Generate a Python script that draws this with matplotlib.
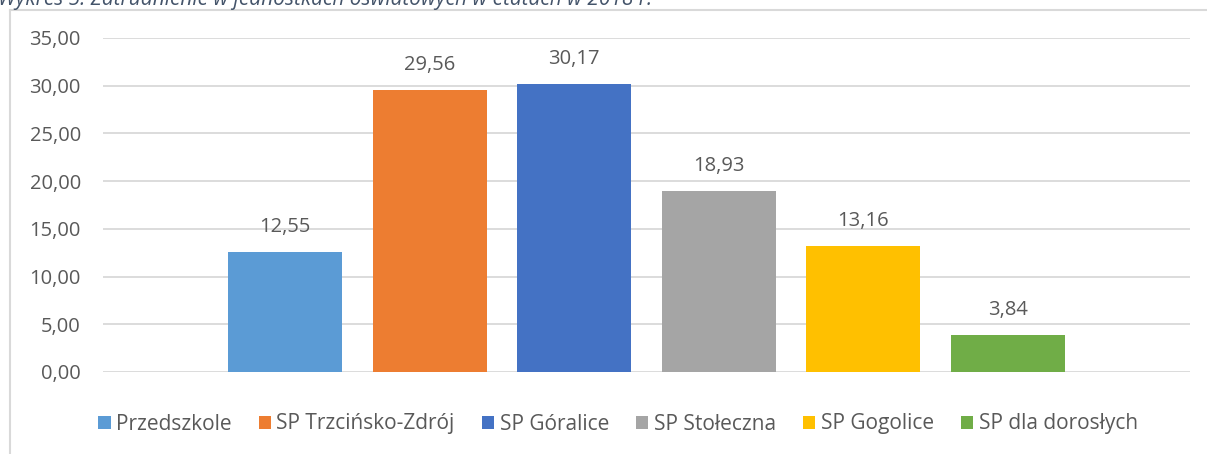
import matplotlib.pyplot as plt
from matplotlib.lines import Line2D
from matplotlib.ticker import FuncFormatter

# data
schools = ['Przedszkole', 'SP Trzcińsko-Zdrój', 'SP Góralice', 'SP Stołeczna',
           'SP Gogolice', 'SP dla dorosłych']
etaty = [12.55, 29.56, 30.17, 18.93, 13.16, 3.84]
colors = ['#5B9BD5', '#ED7D31', '#4472C4', '#A5A5A5', '#FFC000', '#70AD47']
title = 'Wykres 5. Zatrudnienie w jednostkach oświatowych w etatach w 2018 r.'

plt.rcParams['font.family'] = ['Open Sans', 'DejaVu Sans']
txt = '#595959'

fig = plt.figure(figsize=(12.07, 4.54), dpi=100)
ax = fig.add_axes([103/1207, 1 - 372/454, 1087/1207, 334/454])

# one bar per school, clustered in one group
bars = []
for i, (name, val, c) in enumerate(zip(schools, etaty, colors)):
    b = ax.bar(i, val, width=0.79, color=c, label=name, zorder=3)
    bars.append(b)
    ax.annotate(f'{val:.2f}'.replace('.', ','), (i, val), xytext=(0, 11),
                textcoords='offset points', ha='center', va='bottom',
                fontsize=14.5, color=txt)

ax.set_xlim(-1.26, 6.26)
ax.set_ylim(0, 35)
ax.set_yticks(range(0, 36, 5))
ax.yaxis.set_major_formatter(FuncFormatter(lambda v, p: f'{v:.2f}'.replace('.', ',')))
ax.set_xticks([])
ax.tick_params(axis='y', length=0, pad=16, labelsize=14.5, labelcolor=txt)
ax.grid(axis='y', color='#D9D9D9', linewidth=1.3, zorder=0)
for s in ax.spines.values():
    s.set_visible(False)

# legend under the plot
fig.legend(handles=[b[0] for b in bars], labels=schools, loc='center',
           bbox_to_anchor=(618/1207, 1 - 424/454), ncol=6, frameon=False,
           fontsize=15, labelcolor=txt, handlelength=0.6, handleheight=0.6,
           handletextpad=0.25, columnspacing=1.3)

# chart frame (left and top edges only are in view)
fig.add_artist(Line2D([9.5/1207, 9.5/1207], [0, 1 - 9.5/454], transform=fig.transFigure,
                      color='#D9D9D9', linewidth=1.5))
fig.add_artist(Line2D([9.5/1207, 1], [1 - 9.5/454, 1 - 9.5/454], transform=fig.transFigure,
                      color='#D9D9D9', linewidth=1.5))

# title, mostly cut off by the top edge
fig.text(-0.002, 1 - 5/454, title, ha='left', va='baseline', fontsize=15,
         style='italic', color='#44546A')

plt.savefig('out.png', dpi=100)
